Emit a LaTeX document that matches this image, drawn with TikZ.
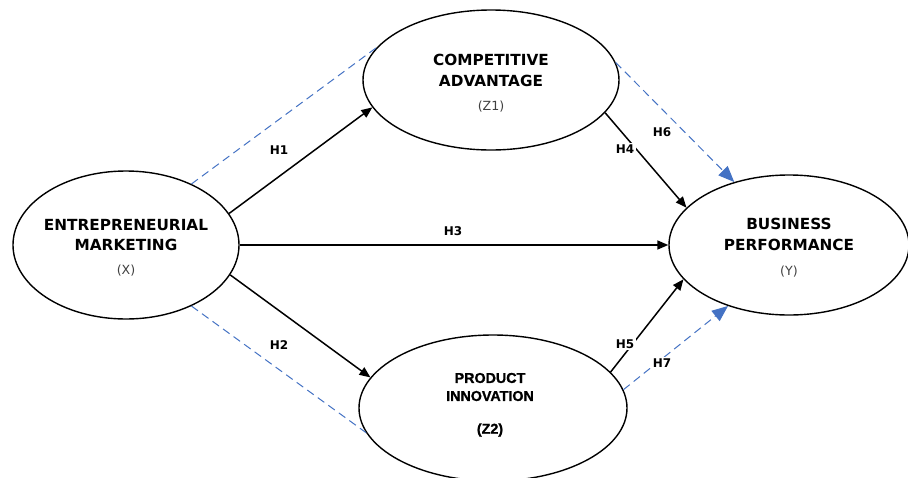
\documentclass[tikz,border=0pt]{standalone}
\usepackage{fontspec}
\setmainfont{DejaVu Sans}
\newfontfamily\arialfam{Liberation Sans}[BoldFeatures={FakeBold=1.2}]
\usetikzlibrary{shapes.geometric,arrows.meta}
\definecolor{dblue}{HTML}{4472C4}
\definecolor{subgray}{HTML}{404040}
\tikzset{
  construct/.style={draw=black, line width=1.4pt, ellipse, inner sep=0pt},
  title/.style={inner sep=0pt, font=\fontsize{15.3}{18}\selectfont\bfseries},
  titlearial/.style={inner sep=0pt, font=\arialfam\fontsize{14.3}{17}\selectfont\bfseries},
  subtitle/.style={inner sep=0pt, text=subgray, font=\fontsize{12.6}{14}\selectfont},
  hyp/.style={inner sep=1.5pt, fill=white, font=\fontsize{12}{14}\selectfont\bfseries},
  path/.style={draw=black, line width=1.5pt, -{Triangle[length=11pt,width=9pt]}},
  blueline/.style={draw=dblue, line width=1pt, dash pattern=on 8pt off 5pt},
  bluearrow/.style={blueline, -{Triangle[length=16pt,width=13pt]}}
}
\begin{document}
\begin{tikzpicture}[x=1pt,y=-1pt]
\useasboundingbox (0,0) rectangle (908,477);
\clip (0,0) rectangle (908,477);
\fill[white] (0,0) rectangle (908,477);

% constructs
\node[construct, minimum width=226pt, minimum height=148pt] (X) at (126,245) {};
\node[construct, minimum width=256pt, minimum height=140pt] (Z1) at (491,80) {};
\node[construct, minimum width=268pt, minimum height=146pt] (Z2) at (493,408) {};
\node[construct, minimum width=240pt, minimum height=140pt] (Y) at (789,245) {};

% texts
\node[title] (Xt1) at (126,225) {ENTREPRENEURIAL};
\node[title] (Xt2) at (126,245) {MARKETING};
\node[subtitle] (Xt3) at (126,271) {(X)};

\node[title] (Z1t1) at (491,60) {COMPETITIVE};
\node[title] (Z1t2) at (491,80.5) {ADVANTAGE};
\node[subtitle] (Z1t3) at (491,107) {(Z1)};

\node[titlearial] (Z2t1) at (490,378) {PRODUCT};
\node[titlearial] (Z2t2) at (490,396) {INNOVATION};
\node[titlearial] (Z2t3) at (490,430) {(Z2)};

\node[title] (Yt1) at (789,224) {BUSINESS};
\node[title] (Yt2) at (789,245) {PERFORMANCE};
\node[subtitle] (Yt3) at (789,272) {(Y)};

% blue dashed correlations
\draw[blueline] (X.43) -- (Z1.164);
\draw[blueline] (X.-43) -- (Z2.191);
\draw[bluearrow] (Z1.8) -- (Y.131.6);
\draw[bluearrow] (Z2.8.5) -- (Y.225.5);

% direct paths
\draw[path] (X.17.6) -- (Z1.193.4);
\draw[path] (X.-16.1) -- (Z2.166.9);
\draw[path] (X.east) -- (Y.west);
\draw[path] (Z1.-16.1) -- (Y.160.8);
\draw[path] (Z2.17.8) -- (Y.198.3);

% hypothesis labels
\node[hyp] (H1) at (279,150) {H1};
\node[hyp] (H2) at (279,345) {H2};
\node[hyp] (H3) at (453,231) {H3};
\node[hyp] (H4) at (625,149) {H4};
\node[hyp] (H5) at (625,344) {H5};
\node[hyp] (H6) at (662,132) {H6};
\node[hyp] (H7) at (662,363) {H7};
\end{tikzpicture}
\end{document}
